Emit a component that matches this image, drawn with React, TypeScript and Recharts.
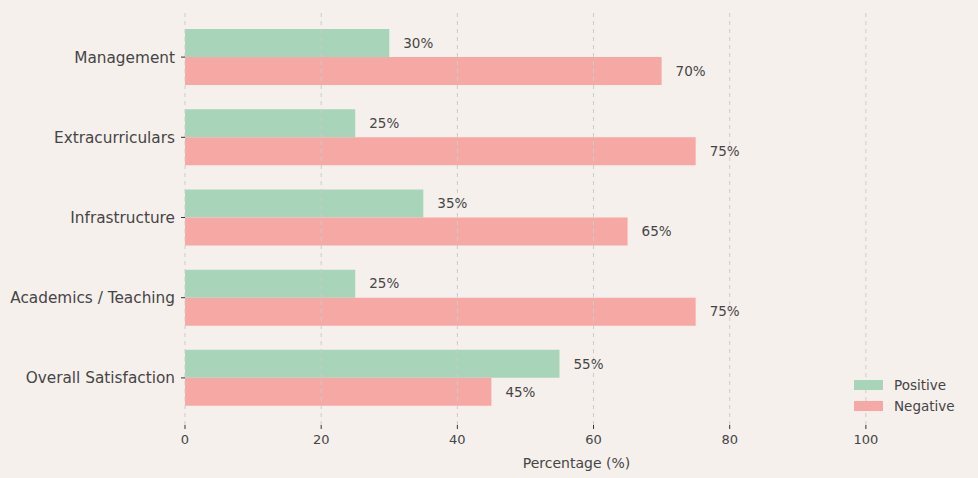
import { Bar, BarChart, LabelList, ReferenceLine, XAxis, YAxis } from "recharts";

const categories = ["Management", "Extracurriculars", "Infrastructure", "Academics / Teaching", "Overall Satisfaction"];
const positive = [30, 25, 35, 25, 55];
const negative = [70, 75, 65, 75, 45];
const xTicks = [0, 20, 40, 60, 80, 100];

const COLORS = {
  bg: "#f5f0ec",
  text: "#454545",
  grid: "#cccccc",
  positive: "#a8d5ba",
  negative: "#f5a8a4",
};

const FONT = "'DejaVu Sans', sans-serif";

const data = categories.map((name, i) => ({ name, positive: positive[i], negative: negative[i] }));

const legendItems = [
  { label: "Positive", color: COLORS.positive },
  { label: "Negative", color: COLORS.negative },
];

export default function App() {
  return (
    <div style={{ position: "fixed", left: 0, top: 0, width: 978, height: 478, background: COLORS.bg }}>
      <BarChart
        width={978}
        height={478}
        data={data}
        layout="vertical"
        margin={{ top: 10, right: 10, left: 10, bottom: 0 }}
        barCategoryGap="15%"
        barGap={0}
        style={{ fontFamily: FONT }}
      >
        {xTicks.map((t) => (
          <ReferenceLine key={t} x={t} stroke={COLORS.grid} strokeDasharray="4 4" />
        ))}
        <XAxis
          type="number"
          domain={[0, 115]}
          ticks={xTicks}
          height={53}
          axisLine={false}
          tickLine={{ stroke: "#333", strokeWidth: 1 }}
          tickSize={4}
          tickMargin={6}
          tick={{ fill: COLORS.text, fontSize: 13 }}
          label={{ value: "Percentage (%)", position: "insideBottom", offset: 10, fill: COLORS.text, fontSize: 14 }}
        />
        <YAxis
          type="category"
          dataKey="name"
          width={175}
          axisLine={false}
          tickLine={{ stroke: "#333", strokeWidth: 1 }}
          tickSize={4}
          tickMargin={6}
          padding={{ top: 7, bottom: 7 }}
          tick={{ fill: COLORS.text, fontSize: 15.3 }}
        />
        <Bar dataKey="positive" name="Positive" fill={COLORS.positive} isAnimationActive={false}>
          <LabelList dataKey="positive" position="right" offset={14} formatter={(v: any) => `${v}%`} fill={COLORS.text} fontSize={13.5} />
        </Bar>
        <Bar dataKey="negative" name="Negative" fill={COLORS.negative} isAnimationActive={false}>
          <LabelList dataKey="negative" position="right" offset={14} formatter={(v: any) => `${v}%`} fill={COLORS.text} fontSize={13.5} />
        </Bar>
      </BarChart>
      <div style={{ position: "absolute", left: 854, top: 374, fontFamily: FONT, fontSize: 13.5, color: COLORS.text }}>
        {legendItems.map((it) => (
          <div key={it.label} style={{ display: "flex", alignItems: "center", height: 21 }}>
            <span style={{ display: "inline-block", width: 29, height: 10, background: it.color, marginRight: 11 }} />
            <span>{it.label}</span>
          </div>
        ))}
      </div>
    </div>
  );
}
